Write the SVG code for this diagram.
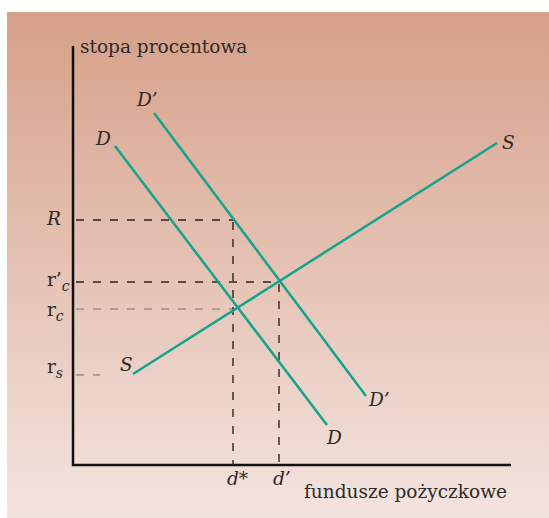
<svg xmlns="http://www.w3.org/2000/svg" width="549" height="518" viewBox="0 0 549 518">
<defs>
<linearGradient id="bg" x1="0" y1="0" x2="0" y2="1">
<stop offset="0" stop-color="#d6a089"/>
<stop offset="1" stop-color="#f4e4df"/>
</linearGradient>
<style>
.t{font-family:"DejaVu Serif","Liberation Serif",serif;fill:#2e2a28;font-size:18.5px}
.i{font-style:italic}
.axis{stroke:#111;stroke-width:2.5;fill:none}
.curve{stroke:#14a38d;stroke-width:2.5;fill:none}
.dk{stroke:#2a2420;stroke-width:1.4;stroke-dasharray:8 9;fill:none}
.gr{stroke:#9a8e8a;stroke-width:1.4;stroke-dasharray:8 9;fill:none}
</style>
</defs>
<rect x="7" y="12" width="542" height="506" fill="url(#bg)"/>
<g id="axes">
<path class="axis" d="M73,46 V465 H511"/>
<text class="t" x="80" y="53">stopa procentowa</text>
<text class="t" x="304" y="498">fundusze pożyczkowe</text>
</g>
<g id="guides">
<path class="dk" d="M76,220 H233"/>
<path class="dk" d="M76,282 H279"/>
<path class="gr" d="M76,309 H237"/>
<path class="gr" d="M76,375 H100"/>
<path class="dk" d="M233,222 V465"/>
<path class="dk" d="M279,284 V465"/>
</g>
<g id="connectors">
<path id="curve-D" class="curve" d="M115,146 L327,425"/>
<path id="curve-Dp" class="curve" d="M154,113 L366,396"/>
<path id="curve-S" class="curve" d="M133,374 L497,143"/>
</g>
<g id="labels">
<text class="t i" x="137" y="106">D’</text>
<text class="t i" x="96" y="145">D</text>
<text class="t i" x="502" y="149">S</text>
<text class="t i" x="120" y="371">S</text>
<text class="t i" x="369" y="406">D’</text>
<text class="t i" x="327" y="444">D</text>
<text class="t i" x="47" y="225">R</text>
<text class="t" x="47" y="286">r’<tspan class="i" font-size="14" dy="5">c</tspan></text>
<text class="t" x="47" y="316">r<tspan class="i" font-size="14" dy="5">c</tspan></text>
<text class="t" x="47" y="373">r<tspan class="i" font-size="14" dy="5">s</tspan></text>
<text class="t i" x="227" y="485">d*</text>
<text class="t i" x="273" y="485">d’</text>
</g>
</svg>
